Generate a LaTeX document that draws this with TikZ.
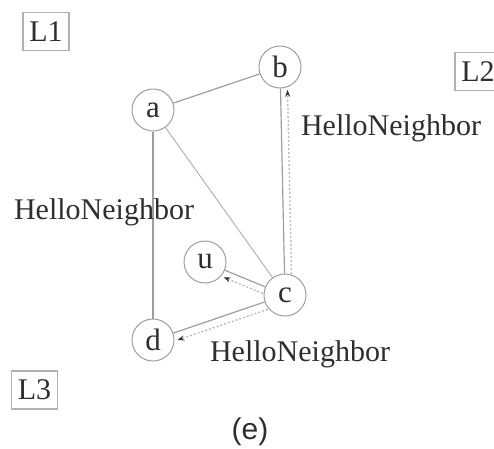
\documentclass[tikz,border=0pt]{standalone}
\usepackage{fontspec}
\setmainfont{Liberation Serif}
\setsansfont{Liberation Sans}
\usetikzlibrary{calc,arrows.meta}
\definecolor{inkc}{gray}{0.18}
\definecolor{edgec}{gray}{0.62}
\definecolor{msgc}{gray}{0.72}
\tikzset{
  vtx/.style={circle,draw=edgec,line width=1pt,minimum size=42pt,inner sep=0pt,
    text=inkc,font=\fontsize{31}{34}\selectfont},
  lbl/.style={text=inkc,font=\fontsize{30}{34}\selectfont,inner sep=0pt},
  layer/.style={draw=edgec!80,line width=1.2pt,text=inkc,inner sep=0pt,
    minimum width=46pt,minimum height=38pt,font=\fontsize{30}{34}\selectfont},
  link/.style={draw=edgec,line width=1.2pt},
  msg/.style={draw=msgc,line width=1.3pt,dash pattern=on 2pt off 2pt,
    shorten <=21pt,shorten >=23pt,
    -{Stealth[length=7pt,width=5pt,color=inkc]}},
}
\begin{document}
\begin{tikzpicture}[x=1pt,y=-1pt]
  \useasboundingbox (0,0) rectangle (494,448);

  % layer tags
  \node[layer] (l1) at (46,31.5) {L1};
  \node[layer] (l2) at (478,71.5) {L2};
  \node[layer] (l3) at (34.5,390) {L3};

  % vertices
  \node[vtx] (a) at (153,110) {a};
  \node[vtx] (b) at (280,67) {b};
  \node[vtx] (c) at (285,295) {c};
  \node[vtx] (u) at (205,262) {u};
  \node[vtx] (d) at (153,340) {d};

  % links
  \draw[link] (a) -- (b);
  \draw[link,line width=0.9pt,edgec!85] (a) -- (c);
  \draw[link] (a) -- (d);
  \draw[link] (b) -- (c);
  \draw[link] (c) -- (u);
  \draw[link] (c) -- (d);

  % HelloNeighbor messages sent by c
  \coordinate (cb1) at ($(c)!7pt!-90:(b)$);
  \coordinate (cb2) at ($(b)!7pt!90:(c)$);
  \draw[msg] (cb1) -- (cb2);
  \coordinate (cu1) at ($(c)!7pt!90:(u)$);
  \coordinate (cu2) at ($(u)!7pt!-90:(c)$);
  \draw[msg] (cu1) -- (cu2);
  \coordinate (cd1) at ($(c)!8pt!90:(d)$);
  \coordinate (cd2) at ($(d)!8pt!-90:(c)$);
  \draw[msg] (cd1) -- (cd2);

  % message labels
  \node[lbl] (hb) at (391,128) {HelloNeighbor};
  \node[lbl] (ha) at (104,212) {HelloNeighbor};
  \node[lbl] (hd) at (300,354) {HelloNeighbor};

  % caption
  \node[lbl,font=\sffamily\fontsize{30}{34}\selectfont] (cap) at (250,432) {(e)};
\end{tikzpicture}
\end{document}
